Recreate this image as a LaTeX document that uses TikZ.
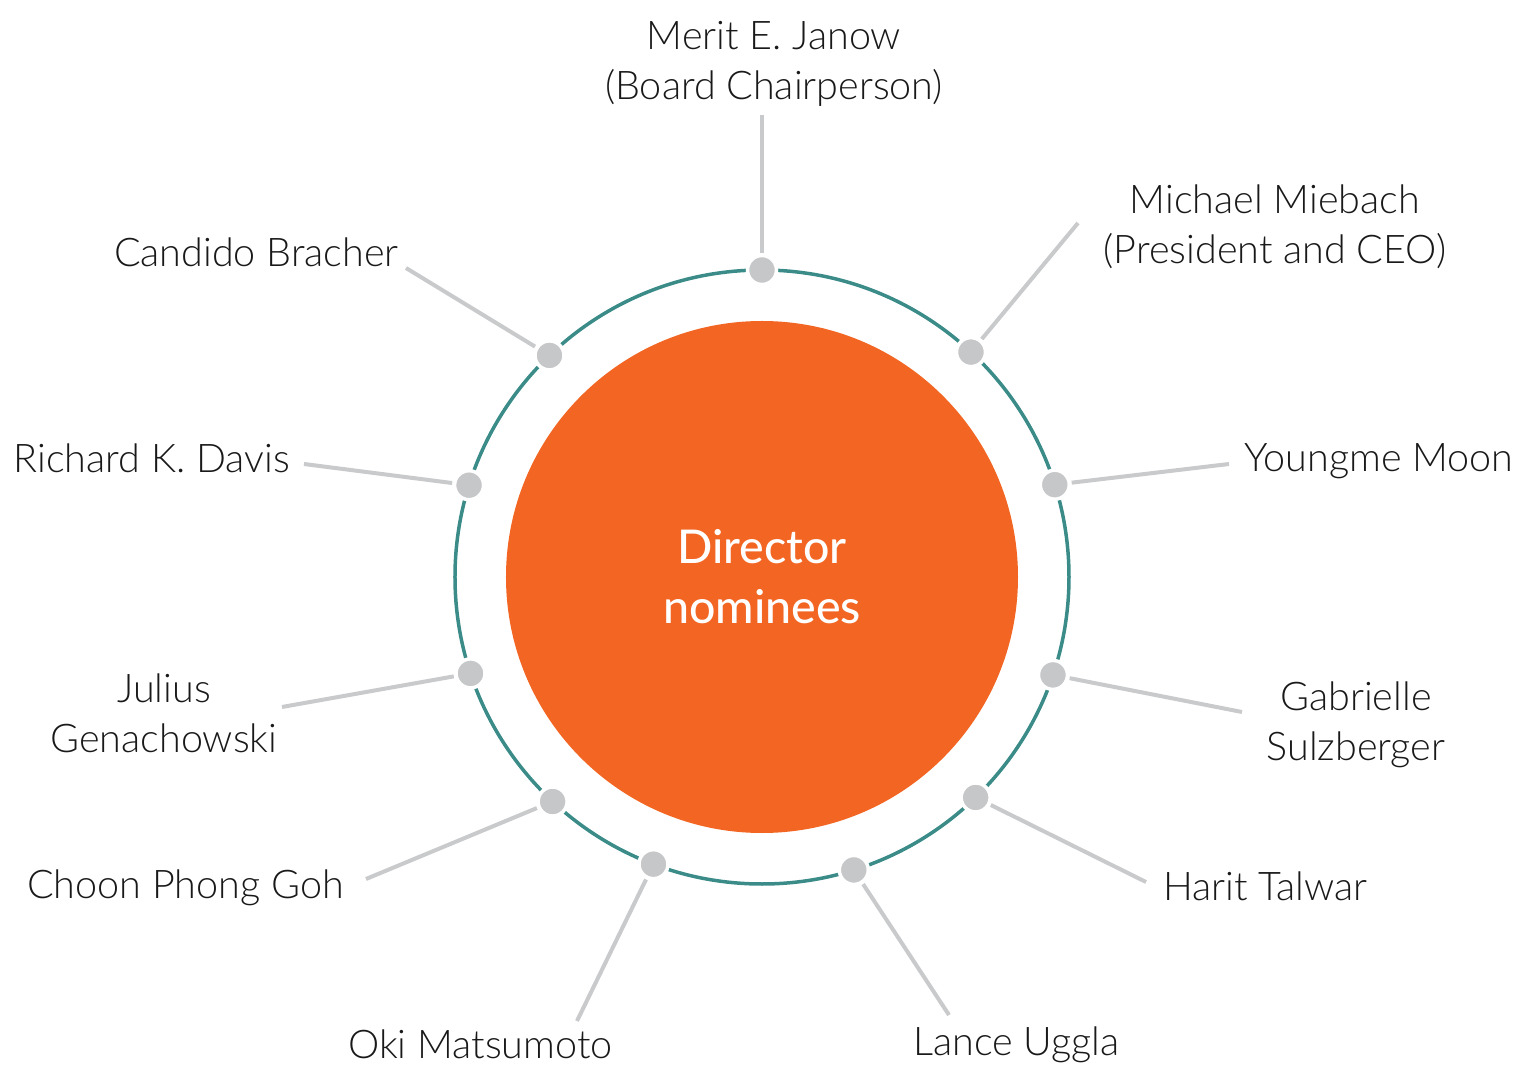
\documentclass[tikz,border=0pt]{standalone}
\usepackage{fontspec}
\setmainfont{Lato Light}
\newfontfamily\titlefont{Lato Medium}
\definecolor{mcorange}{HTML}{F26522}
\definecolor{ringteal}{HTML}{3B8C88}
\definecolor{dotgray}{HTML}{C6C7C9}
\definecolor{spokegray}{HTML}{C9CACC}

\begin{document}
\begin{tikzpicture}[x=1pt,y=1pt,
    seat/.style={circle,fill=dotgray,draw=white,line width=3.5pt,minimum size=29pt,inner sep=0pt,outer sep=2.5pt},
    spoke/.style={spokegray,line width=4pt},
    nomlabel/.style={inner sep=0pt,font=\fontsize{39.5}{50}\selectfont,text=black!90,align=center}]
                    \useasboundingbox (-762pt,-496pt) rectangle (761pt,577pt);
                    \node[circle,fill=mcorange,minimum size=512pt,inner sep=0pt,text=white,align=center,
                        font=\titlefont\fontsize{46.5}{60}\selectfont] (hub) at (0,0) {Director\\nominees};
                    \draw[ringteal,line width=3.5pt] (hub.center) circle (307pt);
                    \node[seat] (janow) at (90:307pt) {};
                    \node[seat] (miebach) at (47.1:307pt) {};
                    \node[seat] (moon) at (17.5:307pt) {};
                    \node[seat] (sulzberger) at (-18.6:307pt) {};
                    \node[seat] (talwar) at (-45.9:307pt) {};
                    \node[seat] (uggla) at (-72.6:307pt) {};
                    \node[seat] (matsumoto) at (-110.7:307pt) {};
                    \node[seat] (goh) at (-133:307pt) {};
                    \node[seat] (genachowski) at (-161.7:307pt) {};
                    \node[seat] (davis) at (162.6:307pt) {};
                    \node[seat] (bracher) at (133.8:307pt) {};
                    \coordinate (janow-end) at (0pt,462pt);
                    \coordinate (miebach-end) at (316pt,354pt);
                    \coordinate (moon-end) at (467pt,113pt);
                    \coordinate (sulzberger-end) at (480pt,-135pt);
                    \coordinate (talwar-end) at (384pt,-305pt);
                    \coordinate (uggla-end) at (187pt,-438pt);
                    \coordinate (matsumoto-end) at (-185pt,-444pt);
                    \coordinate (goh-end) at (-396pt,-302pt);
                    \coordinate (genachowski-end) at (-480pt,-130pt);
                    \coordinate (davis-end) at (-458pt,113pt);
                    \coordinate (bracher-end) at (-356pt,309pt);
                    \draw[spoke] (janow) -- (janow-end);
                    \draw[spoke] (miebach) -- (miebach-end);
                    \draw[spoke] (moon) -- (moon-end);
                    \draw[spoke] (sulzberger) -- (sulzberger-end);
                    \draw[spoke] (talwar) -- (talwar-end);
                    \draw[spoke] (uggla) -- (uggla-end);
                    \draw[spoke] (matsumoto) -- (matsumoto-end);
                    \draw[spoke] (goh) -- (goh-end);
                    \draw[spoke] (genachowski) -- (genachowski-end);
                    \draw[spoke] (davis) -- (davis-end);
                    \draw[spoke] (bracher) -- (bracher-end);
                    \node[nomlabel,anchor=base] (janow-name) at (12pt,477pt) {Merit E. Janow\\(Board Chairperson)};
                    \node[nomlabel,anchor=base] (miebach-name) at (513pt,313pt) {Michael Miebach\\(President and CEO)};
                    \node[nomlabel,anchor=base west] (moon-name) at (482pt,105pt) {Youngme Moon};
                    \node[nomlabel,anchor=base] (sulzberger-name) at (594pt,-183pt) {Gabrielle\\Sulzberger};
                    \node[nomlabel,anchor=base west] (talwar-name) at (401pt,-323pt) {Harit Talwar};
                    \node[nomlabel,anchor=base west] (uggla-name) at (151pt,-478pt) {Lance Uggla};
                    \node[nomlabel,anchor=base west] (matsumoto-name) at (-414pt,-481pt) {Oki Matsumoto};
                    \node[nomlabel,anchor=base east] (goh-name) at (-418pt,-321pt) {Choon Phong Goh};
                    \node[nomlabel,anchor=base] (genachowski-name) at (-598pt,-175pt) {Julius\\Genachowski};
                    \node[nomlabel,anchor=base east] (davis-name) at (-472pt,104pt) {Richard K. Davis};
                    \node[nomlabel,anchor=base east] (bracher-name) at (-363pt,310pt) {Candido Bracher};
                \end{tikzpicture}
\end{document}
